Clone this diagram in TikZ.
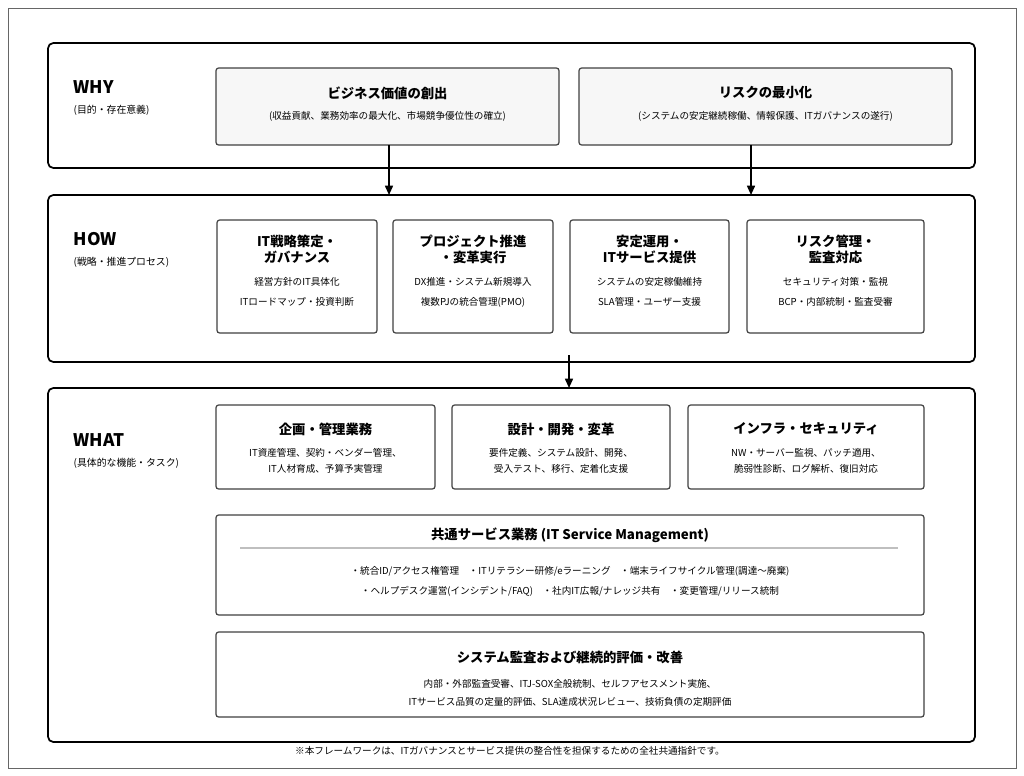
\documentclass[tikz,border=0pt]{standalone}
\usepackage{fontspec}
\setmainfont{Noto Sans CJK JP}
\usetikzlibrary{arrows.meta}
\begin{document}
\begin{tikzpicture}[x=0.75pt,y=-0.75pt,
  layer/.style={draw=black,line width=1.3pt,rounded corners=4pt},
  box/.style={draw=black!75,line width=0.9pt,rounded corners=2pt,fill=#1},
  box/.default=white,
  ttl/.style={font=\fontsize{10}{12}\selectfont\bfseries,align=center},
  sml/.style={font=\fontsize{7.2}{11}\selectfont,align=center},
  big/.style={font=\fontsize{13}{15}\selectfont\bfseries,anchor=west},
  sub/.style={font=\fontsize{7.4}{8}\selectfont,anchor=west},
  arr/.style={-{Triangle[length=7pt,width=6pt]},line width=1.2pt}]
\useasboundingbox (0,0) rectangle (1024,775);
\draw[black!60,line width=0.6pt] (8,8) rectangle (1016,768);
% WHY
\draw[layer] (48,43) rectangle (975,168);
\node[big] (why) at (69,87) {WHY};
\node[sub] (whys) at (69,110) {(目的・存在意義)};
\draw[box=black!3] (216,68) rectangle (559,145);
\node[ttl] (w1) at (387.5,93) {ビジネス価値の創出};
\node[sml] (w1s) at (387.5,116) {(収益貢献、業務効率の最大化、市場競争優位性の確立)};
\coordinate (w1b) at (389,145);
\draw[box=black!3] (579,68) rectangle (952,145);
\node[ttl] (w2) at (765.5,93) {リスクの最小化};
\node[sml] (w2s) at (765.5,116) {(システムの安定継続稼働、情報保護、ITガバナンスの遂行)};
\coordinate (w2b) at (751,145);
% HOW
\draw[layer] (48,195) rectangle (975,362);
\coordinate (howt1) at (389,195);
\coordinate (howt2) at (751,195);
\draw[arr] (w1b) -- (howt1);
\draw[arr] (w2b) -- (howt2);
\node[big] (how) at (69,239) {HOW};
\node[sub] (hows) at (69,262) {(戦略・推進プロセス)};
\foreach \a/\b/\t/\s [count=\i] in {
 217/377/{IT戦略策定・\\ガバナンス}/{経営方針のIT具体化\\ITロードマップ・投資判断},
 393/553/{プロジェクト推進\\・変革実行}/{DX推進・システム新規導入\\複数PJの統合管理(PMO)},
 570/729/{安定運用・\\ITサービス提供}/{システムの安定稼働維持\\SLA管理・ユーザー支援},
 747/924/{リスク管理・\\監査対応}/{セキュリティ対策・監視\\BCP・内部統制・監査受審}}{
  \draw[box] (\a,220) rectangle (\b,333);
  \node[ttl] (h\i) at ({(\a+\b)/2},249) {\t};
  \node[sml,font=\fontsize{7.2}{15}\selectfont] (h\i s) at ({(\a+\b)/2},292) {\s};
}
% WHAT
\coordinate (hwb) at (569,355);
\coordinate (wht) at (569,388);
\draw[layer] (48,388) rectangle (975,742);
\draw[arr] (hwb) -- (wht);
\node[big] (what) at (69,440) {WHAT};
\node[sub] (whats) at (69,463) {(具体的な機能・タスク)};
\foreach \a/\b/\t/\s [count=\i] in {
 216/435/{企画・管理業務}/{IT資産管理、契約・ベンダー管理、\\IT人材育成、予算予実管理},
 452/670/{設計・開発・変革}/{要件定義、システム設計、開発、\\受入テスト、移行、定着化支援},
 688/924/{インフラ・セキュリティ}/{NW・サーバー監視、パッチ適用、\\脆弱性診断、ログ解析、復旧対応}}{
  \draw[box] (\a,405) rectangle (\b,489);
  \node[ttl] (t\i) at ({(\a+\b)/2},429) {\t};
  \node[sml,font=\fontsize{7.2}{12.5}\selectfont] (t\i s) at ({(\a+\b)/2},461) {\s};
}
\draw[box] (216,515) rectangle (924,615);
\node[ttl] (itsm) at (570,535) {共通サービス業務 (IT Service Management)};
\draw[black!25,line width=1pt] (240,548) -- (898,548);
\node[sml,font=\fontsize{7.2}{15}\selectfont] (itsms) at (570,581) {・統合ID/アクセス権管理\quad・ITリテラシー研修/eラーニング\quad・端末ライフサイクル管理(調達〜廃棄)\\・ヘルプデスク運営(インシデント/FAQ)\quad・社内IT広報/ナレッジ共有\quad・変更管理/リリース統制};
\draw[box] (216,632) rectangle (924,717);
\node[ttl] (aud) at (570,657) {システム監査および継続的評価・改善};
\node[sml,font=\fontsize{7.2}{14}\selectfont] (auds) at (570,693) {内部・外部監査受審、ITJ-SOX全般統制、セルフアセスメント実施、\\ITサービス品質の定量的評価、SLA達成状況レビュー、技術負債の定期評価};
\node[sml] (foot) at (510,751) {※本フレームワークは、ITガバナンスとサービス提供の整合性を担保するための全社共通指針です。};
\end{tikzpicture}
\end{document}
